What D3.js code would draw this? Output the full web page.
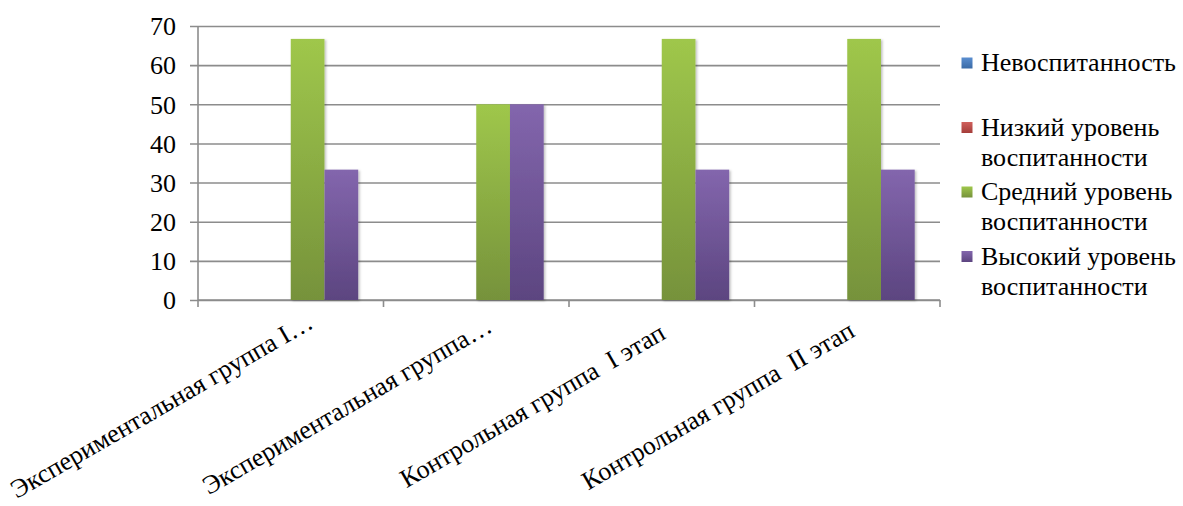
<!DOCTYPE html>
<html>
<head>
<meta charset="utf-8">
<script src="https://cdn.jsdelivr.net/npm/d3@7"></script>
<style>
  body { margin: 0; background: #fff; }
  svg text { font-family: "Liberation Serif"; fill: #000; white-space: pre; }
</style>
</head>
<body>
<svg id="chart" width="1183" height="506"></svg>
<script>
const categories = [
    "Экспериментальная группа I…",
    "Экспериментальная группа…",
    "Контрольная группа  I этап",
    "Контрольная группа  II этап"
];
const seriesNames = [
    ["Невоспитанность"],
    ["Низкий уровень", "воспитанности"],
    ["Средний уровень", "воспитанности"],
    ["Высокий уровень", "воспитанности"]
];
const neVosp = [0, 0, 0, 0];
const nizkiy = [0, 0, 0, 0];
const sredniy = [66.7, 50, 66.7, 66.7];
const vysokiy = [33.3, 50, 33.3, 33.3];
const yTicks = [0, 10, 20, 30, 40, 50, 60, 70];

const series = [neVosp, nizkiy, sredniy, vysokiy];
const colors = [
    ["#5a8ed0", "#3a6aa6"],
    ["#d0605c", "#a43d3a"],
    ["#9fc74b", "#76923b"],
    ["#8366ad", "#5c4580"]
];

const svg = d3.select("#chart");
const margin = { left: 198, right: 940, top: 26, bottom: 300 };
const fontSize = "26px";

const x = d3.scaleBand()
    .domain(categories)
    .range([margin.left, margin.right]);

const y = d3.scaleLinear()
    .domain([0, 70])
    .range([margin.bottom, margin.top]);

// gap width 150% like the spreadsheet default
const barW = x.bandwidth() / (series.length + 1.5);
const xs = d3.scaleBand()
    .domain(d3.range(series.length))
    .range([barW * 0.75, x.bandwidth() - barW * 0.75]);

const defs = svg.append("defs");
colors.forEach((c, i) => {
    const g = defs.append("linearGradient")
        .attr("id", "grad" + i)
        .attr("x1", 0).attr("y1", 0).attr("x2", 0).attr("y2", 1);
    g.append("stop").attr("offset", "0%").attr("stop-color", c[0]);
    g.append("stop").attr("offset", "100%").attr("stop-color", c[1]);
});
const shadow = defs.append("filter").attr("id", "shadow")
    .attr("x", "-20%").attr("y", "-5%").attr("width", "150%").attr("height", "115%");
shadow.append("feDropShadow")
    .attr("dx", 1.5).attr("dy", 1)
    .attr("stdDeviation", 1.2)
    .attr("flood-color", "#000")
    .attr("flood-opacity", 0.25);

// gridlines + y axis labels
const gridW = margin.right - margin.left + 8;
const yG = svg.append("g")
    .attr("transform", `translate(${margin.right},0)`)
    .call(d3.axisLeft(y).tickValues(yTicks).tickSize(gridW));
yG.attr("font-family", null);
yG.select(".domain").remove();
yG.selectAll(".tick line")
    .attr("stroke", "#8c8c8c")
    .attr("stroke-width", 1.6);
yG.selectAll(".tick text")
    .attr("x", -gridW - 14)
    .attr("dy", "0.34em")
    .style("font-size", fontSize);

svg.append("line")
    .attr("x1", margin.left).attr("x2", margin.left)
    .attr("y1", margin.top).attr("y2", margin.bottom)
    .attr("stroke", "#8c8c8c")
    .attr("stroke-width", 1.6);

// x axis
const xG = svg.append("g")
    .attr("transform", `translate(0,${margin.bottom})`)
    .call(d3.axisBottom(x).tickSize(0).tickFormat(""));
xG.select(".domain")
    .attr("stroke", "#8c8c8c")
    .attr("stroke-width", 1.6)
    .attr("d", `M${margin.left},0H${margin.right}`);
const tickXs = categories.map(c => x(c)).concat([margin.right]);
xG.selectAll(".catTick")
    .data(tickXs)
    .enter()
    .append("line")
    .attr("class", "catTick")
    .attr("x1", d => d).attr("x2", d => d)
    .attr("y1", 0).attr("y2", 7)
    .attr("stroke", "#8c8c8c")
    .attr("stroke-width", 1.6);

// bars
series.forEach((vals, si) => {
    svg.append("g")
        .selectAll("rect")
        .data(vals)
        .enter()
        .append("rect")
        .attr("x", (d, i) => x(categories[i]) + xs(si))
        .attr("width", xs.bandwidth())
        .attr("y", d => y(d))
        .attr("height", d => y(0) - y(d))
        .attr("fill", `url(#grad${si})`)
        .attr("filter", d => d > 0 ? "url(#shadow)" : null);
});

// category labels, rotated and centred below each group
svg.append("g")
    .selectAll("text")
    .data(categories)
    .enter()
    .append("text")
    .attr("text-anchor", "middle")
    .attr("transform", d => `translate(${x(d) + x.bandwidth() / 2 - 125},413) rotate(-30)`)
    .attr("xml:space", "preserve")
    .style("font-size", fontSize)
    .text(d => d);

// legend
const lg = svg.append("g");
seriesNames.forEach((lines, i) => {
    const cy = 63 + i * 64.5;
    lg.append("rect")
        .attr("x", 961.5)
        .attr("y", cy - 5.5)
        .attr("width", 11)
        .attr("height", 11)
        .attr("fill", `url(#grad${i})`);
    lines.forEach((t, j) => {
        lg.append("text")
            .attr("x", 981)
            .attr("y", cy + 8 + j * 30)
            .style("font-size", fontSize)
            .text(t);
    });
});
</script>
</body>
</html>
